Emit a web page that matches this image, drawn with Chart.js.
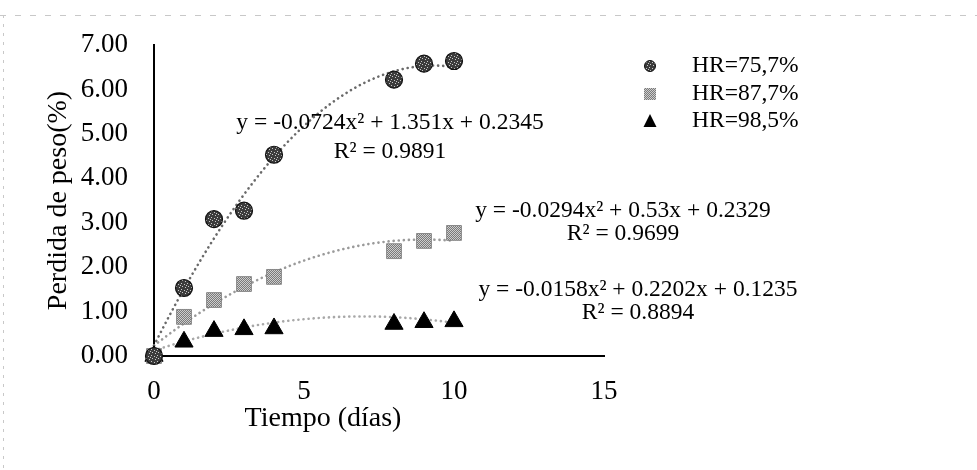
<!DOCTYPE html>
<html>
<head>
<meta charset="utf-8">
<script src="https://cdn.jsdelivr.net/npm/chart.js@4.4.1/dist/chart.umd.min.js"></script>
<style>
  html, body { margin: 0; padding: 0; background: #ffffff; }
  #wrap { width: 977px; height: 470px; position: relative; }
</style>
</head>
<body>
<div id="wrap"><canvas id="c" width="977" height="470"></canvas></div>
<script>
// ---- data ----
const xDays   = [0, 1, 2, 3, 4, 8, 9, 10];
const hr757   = [0, 1.53, 3.08, 3.27, 4.53, 6.22, 6.58, 6.64];
const hr877   = [0, 0.88, 1.26, 1.62, 1.78, 2.36, 2.59, 2.77];
const hr985   = [0, 0.32, 0.56, 0.60, 0.62, 0.72, 0.76, 0.78];
const seriesLabels = ['HR=75,7%', 'HR=87,7%', 'HR=98,5%'];
const fit757 = [-0.0724, 1.351, 0.2345];
const fit877 = [-0.0294, 0.53, 0.2329];
const fit985 = [-0.0158, 0.2202, 0.1235];
const r2Values = ['0.9891', '0.9699', '0.8894'];
const xAxisTitle = 'Tiempo (días)';
const yAxisTitle = 'Perdida de peso(%)';

const FONT = "'Liberation Serif', 'Times New Roman', serif";

// ---- fill patterns (deterministic) ----
function makePattern(size, base, spots, spotColor) {
  const c = document.createElement('canvas');
  c.width = size; c.height = size;
  const g = c.getContext('2d');
  g.fillStyle = base; g.fillRect(0, 0, size, size);
  g.fillStyle = spotColor;
  spots.forEach(p => g.fillRect(p[0], p[1], 1, 1));
  return g.createPattern(c, 'repeat');
}
const ctx0 = document.getElementById('c').getContext('2d');
const circlePat = makePattern(6, '#3c3c3c', [[1,1],[4,2],[2,4],[5,5],[0,3]], '#c8c8c8');
const squarePat = makePattern(2, '#7a7a7a', [[0,0],[1,1]], '#cdcdcd');

function pts(ys) { return xDays.map((x, i) => ({ x: x, y: ys[i] })); }

const fits = [
  { c: fit757, color: '#6a6a6a', r2: r2Values[0] },
  { c: fit877, color: '#9a9a9a', r2: r2Values[1] },
  { c: fit985, color: '#a8a8a8', r2: r2Values[2] }
];
function eqText(c) {
  return 'y = ' + String(c[0]) + 'x² + ' + String(c[1]) + 'x + ' + String(c[2]);
}
// label placement (pixels)
const eqPos = [
  { x: 390, y: 123, dy: 29 },
  { x: 623, y: 211, dy: 23 },
  { x: 638, y: 290, dy: 23 }
];

const trendPlugin = {
  id: 'trend',
  beforeDatasetsDraw(chart) {
    const { ctx, scales: { x, y } } = chart;
    const xMax = Math.max.apply(null, xDays);
    fits.forEach(f => {
      ctx.save();
      ctx.strokeStyle = f.color;
      ctx.lineWidth = 2.6;
      ctx.lineCap = 'round';
      ctx.setLineDash([0.1, 5]);
      ctx.beginPath();
      for (let i = 0; i <= 200; i++) {
        const xv = xMax * i / 200;
        const yv = f.c[0] * xv * xv + f.c[1] * xv + f.c[2];
        const px = x.getPixelForValue(xv), py = y.getPixelForValue(yv);
        if (i === 0) ctx.moveTo(px, py); else ctx.lineTo(px, py);
      }
      ctx.stroke();
      ctx.restore();
    });
  },
  afterDraw(chart) {
    const { ctx } = chart;
    ctx.save();
    // faint scan border
    ctx.strokeStyle = '#c8c8c8';
    ctx.lineWidth = 1;
    ctx.setLineDash([6, 9]);
    ctx.beginPath(); ctx.moveTo(0, 15.5); ctx.lineTo(977, 15.5); ctx.stroke();
    ctx.setLineDash([3, 6]);
    ctx.beginPath(); ctx.moveTo(3.5, 15); ctx.lineTo(3.5, 470); ctx.stroke();
    ctx.setLineDash([]);
    // equations
    ctx.fillStyle = '#000';
    ctx.font = '23.5px ' + FONT;
    ctx.textAlign = 'center';
    ctx.textBaseline = 'middle';
    fits.forEach((f, i) => {
      ctx.fillText(eqText(f.c), eqPos[i].x, eqPos[i].y);
      ctx.fillText('R² = ' + f.r2, eqPos[i].x, eqPos[i].y + eqPos[i].dy);
    });
    // x axis title
    ctx.font = '28px ' + FONT;
    ctx.fillText(xAxisTitle, 323, 419);
    // legend
    const rows = [66, 94, 121];
    ctx.font = '23.5px ' + FONT;
    ctx.textAlign = 'left';
    rows.forEach((ry, i) => {
      const mx = 650;
      ctx.beginPath();
      if (i === 0) {
        ctx.arc(mx, ry, 5.5, 0, Math.PI * 2);
        ctx.fillStyle = circlePat; ctx.fill();
        ctx.strokeStyle = '#111'; ctx.lineWidth = 1; ctx.stroke();
      } else if (i === 1) {
        ctx.rect(mx - 6, ry - 6, 12, 12);
        ctx.fillStyle = squarePat; ctx.fill();
      } else {
        ctx.moveTo(mx, ry - 7); ctx.lineTo(mx + 6.5, ry + 6); ctx.lineTo(mx - 6.5, ry + 6); ctx.closePath();
        ctx.fillStyle = '#000'; ctx.fill();
      }
      ctx.fillStyle = '#000';
      ctx.fillText(seriesLabels[i], 692, ry);
    });
    ctx.restore();
  }
};

new Chart(document.getElementById('c'), {
  type: 'scatter',
  data: {
    datasets: [
      { label: seriesLabels[0], data: pts(hr757), pointStyle: 'circle', pointRadius: 8.5,
        backgroundColor: circlePat, borderColor: '#111', borderWidth: 1.2, clip: false },
      { label: seriesLabels[1], data: pts(hr877), pointStyle: 'rect', pointRadius: 10.5,
        backgroundColor: squarePat, borderColor: '#777', borderWidth: 0.8, clip: false },
      { label: seriesLabels[2], data: pts(hr985), pointStyle: 'triangle', pointRadius: 10.5,
        backgroundColor: '#000', borderColor: '#000', borderWidth: 1, clip: false }
    ]
  },
  options: {
    responsive: false,
    animation: false,
    devicePixelRatio: 1,
    layout: { padding: { left: 0, right: 373, top: 45, bottom: 0 } },
    plugins: { legend: { display: false }, tooltip: { enabled: false } },
    scales: {
      x: {
        type: 'linear', min: 0, max: 15,
        ticks: { stepSize: 5, color: '#000', font: { family: FONT, size: 27 }, padding: 20, maxRotation: 0 },
        grid: { display: false, drawTicks: false },
        border: { display: true, color: '#000', width: 2 },
        afterFit(s) { s.height = 114; }
      },
      y: {
        min: 0, max: 7,
        ticks: { stepSize: 1, color: '#000', font: { family: FONT, size: 27 }, padding: 26,
                 callback: v => Number(v).toFixed(2) },
        grid: { display: false, drawTicks: false },
        border: { display: true, color: '#000', width: 2 },
        title: { display: true, text: yAxisTitle, color: '#000', font: { family: FONT, size: 28 }, padding: { top: 42, bottom: 0 } },
        afterFit(s) { s.width = 154; }
      }
    }
  },
  plugins: [trendPlugin]
});
</script>
</body>
</html>
